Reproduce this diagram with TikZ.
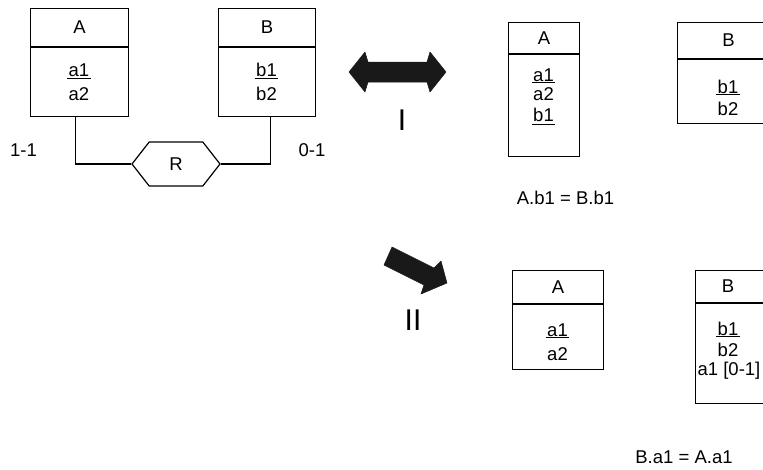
\documentclass[tikz,border=0pt]{standalone}
\usepackage{fontspec}
\setmainfont{Liberation Sans}
\usetikzlibrary{shapes.symbols}
\newcommand\ulx[2][2]{\leavevmode\setbox0=\hbox{#2}\rlap{\hskip-1.5pt\rule[-#1pt]{\dimexpr\wd0+3pt\relax}{0.9pt}}\box0}
\begin{document}
\begin{tikzpicture}[x=1pt,y=-1pt,line width=1.2pt,
  cell/.style 2 args={draw, minimum width=#1, minimum height=#2, inner sep=0pt, anchor=north west, font=\fontsize{18.5}{20}\selectfont},
  txt/.style={inner sep=0pt, anchor=base, font=\fontsize{18.5}{20}\selectfont},
  roman/.style={inner sep=0pt, anchor=base, font=\fontsize{30}{32}\selectfont},
  bigarrow/.style={fill=black!90, draw=black!90, line width=0.5pt, line join=round}]
\useasboundingbox (0,0) rectangle (763,469);
\fill[white] (0,0) rectangle (763,469);
\clip (0,0) rectangle (763,469);

% ---- left ER diagram ----
\node[cell={98pt}{38pt}] (Ah) at (30,8) {A};
\node[cell={98pt}{69pt}] (Ab) at (Ah.south west) {};
\node[txt] (Aa1) at (79,76) {\ulx[2.5]{a1}};
\node[txt] (Aa2) at (79,100) {a2};

\node[cell={97pt}{38pt}] (Bh) at (218,8) {B};
\node[cell={97pt}{69pt}] (Bb) at (Bh.south west) {};
\node[txt] (Bb1) at (266.5,76) {\ulx[2.5]{b1}};
\node[txt] (Bb2) at (266.5,100) {b2};

\node[draw, signal, signal to=west and east, signal pointer angle=104,
      minimum width=88pt, minimum height=44pt, inner sep=0pt,
      font=\fontsize{18.5}{20}\selectfont] (R) at (176,164) {R};
\draw ([xshift=-4pt]Ab.south) |- (R.west);
\draw (R.east) -| ([xshift=3.5pt]Bb.south);

\node[txt] (c11) at (23.5,156) {1-1};
\node[txt] (c01) at (312,156) {0-1};

% ---- arrows ----
\path[bigarrow] (349,72) -- (365,52) -- (368,62) -- (427,62) -- (430,52) -- (446,72)
  -- (430,92) -- (427,82) -- (368,82) -- (365,92) -- cycle;
\node[roman] (I) at (402,130) {I};

\path[bigarrow] (392,247) -- (434,268) -- (441,261) -- (447,283) -- (421,294)
  -- (424,285) -- (384,265) -- cycle;
\node[roman] (II) at (413,330) {II};

% ---- solution I ----
\node[cell={71pt}{31pt}] (IAh) at (508,22) {A};
\node[cell={71pt}{102pt}] (IAb) at (IAh.south west) {};
\node[txt] (IAa1) at (543.5,81) {\ulx[1.5]{a1}};
\node[txt] (IAa2) at (543.5,100) {a2};
\node[txt] (IAb1) at (543.5,121) {\ulx[4]{b1}};

\node[cell={102pt}{36pt}] (IBh) at (677,22) {B};
\node[cell={102pt}{64pt}] (IBb) at (IBh.south west) {};
\node[txt] (IBb1) at (728,93) {\ulx[2]{b1}};
\node[txt] (IBb2) at (728,115) {b2};

\node[txt] (eqI) at (565.5,204) {A.b1 = B.b1};

% ---- solution II ----
\node[cell={91pt}{33pt}] (IIAh) at (512,270) {A};
\node[cell={91pt}{65pt}] (IIAb) at (IIAh.south west) {};
\node[txt] (IIAa1) at (557.5,336) {\ulx[2]{a1}};
\node[txt] (IIAa2) at (557.5,360) {a2};

\node[cell={80pt}{32pt}] (IIBh) at (695,270) {};
\node[txt, anchor=center] (IIBt) at (728,286) {B};
\node[cell={80pt}{100pt}] (IIBb) at (IIBh.south west) {};
\node[txt] (IIBb1) at (728,335) {\ulx[2]{b1}};
\node[txt] (IIBb2) at (728,356) {b2};
\node[txt] (IIBa1) at (729,375) {a1 [0-1]};

\node[txt] (eqII) at (684,463) {B.a1 = A.a1};
\end{tikzpicture}
\end{document}
